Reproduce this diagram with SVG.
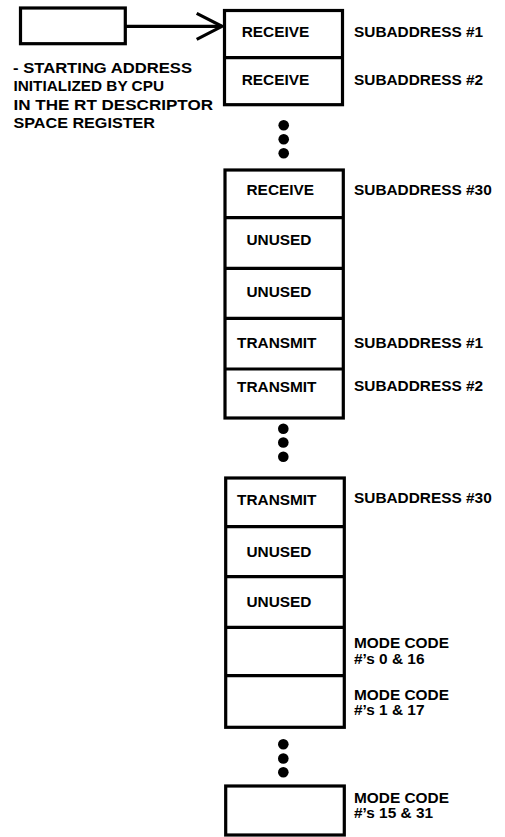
<svg xmlns="http://www.w3.org/2000/svg" width="505" height="837" viewBox="0 0 505 837">
<style>
.box{fill:#fff;stroke:#000;stroke-width:3.2}
.ln{fill:none;stroke:#000;stroke-width:3.2}
text{font-family:"Liberation Sans",Arial,Helvetica,sans-serif;font-weight:bold;font-size:15.4px;fill:#000}
.note{font-size:15px}
.dot{fill:#000}
</style>
<rect width="505" height="837" fill="#fff"/>
<g id="pointer">
<rect class="box" x="20.5" y="8" width="104.8" height="35.7"/>
<text class="note" x="13" y="72.8" textLength="179" lengthAdjust="spacingAndGlyphs">- STARTING ADDRESS</text>
<text class="note" x="13.5" y="91.2" textLength="150.5" lengthAdjust="spacingAndGlyphs">INITIALIZED BY CPU</text>
<text class="note" x="13.5" y="109.6" textLength="199.5" lengthAdjust="spacingAndGlyphs">IN THE RT DESCRIPTOR</text>
<text class="note" x="13.5" y="128" textLength="141.5" lengthAdjust="spacingAndGlyphs">SPACE REGISTER</text>
</g>
<g id="connectors">
<line class="ln" x1="125.3" y1="26.3" x2="222" y2="26.3"/>
<polyline class="ln" points="196.7,13.3 222,26.3 196.7,39.3"/>
</g>
<g id="block1">
<rect class="box" x="224.5" y="10.5" width="118" height="94.2"/>
<line class="ln" x1="224.5" y1="57.7" x2="342.5" y2="57.7"/>
<text x="241.7" y="36.5">RECEIVE</text>
<text x="241.7" y="84.5">RECEIVE</text>
<text x="354" y="36.5">SUBADDRESS #1</text>
<text x="354" y="84.5">SUBADDRESS #2</text>
</g>
<g id="dots1">
<circle class="dot" cx="283.7" cy="125.3" r="5.3"/>
<circle class="dot" cx="283.7" cy="139.3" r="5.3"/>
<circle class="dot" cx="283.7" cy="153.3" r="5.3"/>
</g>
<g id="block2">
<rect class="box" x="225" y="170" width="118.3" height="248"/>
<line class="ln" x1="225" y1="217.7" x2="343.3" y2="217.7"/>
<line class="ln" x1="225" y1="268.3" x2="343.3" y2="268.3"/>
<line class="ln" x1="225" y1="318.3" x2="343.3" y2="318.3"/>
<line class="ln" x1="225" y1="369" x2="343.3" y2="369"/>
<text x="246.5" y="195">RECEIVE</text>
<text x="246.5" y="245">UNUSED</text>
<text x="246.5" y="296.7">UNUSED</text>
<text x="237" y="348.3">TRANSMIT</text>
<text x="237" y="391.7">TRANSMIT</text>
<text x="354" y="195">SUBADDRESS #30</text>
<text x="354" y="347.5">SUBADDRESS #1</text>
<text x="354" y="391">SUBADDRESS #2</text>
</g>
<g id="dots2">
<circle class="dot" cx="283.3" cy="428.7" r="5.3"/>
<circle class="dot" cx="283.3" cy="442.5" r="5.3"/>
<circle class="dot" cx="283.3" cy="456.7" r="5.3"/>
</g>
<g id="block3">
<rect class="box" x="225.7" y="478" width="118.6" height="249.3"/>
<line class="ln" x1="225.7" y1="526.7" x2="344.3" y2="526.7"/>
<line class="ln" x1="225.7" y1="576.7" x2="344.3" y2="576.7"/>
<line class="ln" x1="225.7" y1="627.3" x2="344.3" y2="627.3"/>
<line class="ln" x1="225.7" y1="675.7" x2="344.3" y2="675.7"/>
<text x="237" y="505">TRANSMIT</text>
<text x="246.5" y="557">UNUSED</text>
<text x="246.5" y="607">UNUSED</text>
<text x="354" y="503">SUBADDRESS #30</text>
<text x="354" y="648.3">MODE CODE</text>
<text x="354" y="663.5">#’s 0 &amp; 16</text>
<text x="354" y="700">MODE CODE</text>
<text x="354" y="715">#’s 1 &amp; 17</text>
</g>
<g id="dots3">
<circle class="dot" cx="283.3" cy="744.3" r="5.3"/>
<circle class="dot" cx="283.3" cy="758.5" r="5.3"/>
<circle class="dot" cx="283.3" cy="772.3" r="5.3"/>
</g>
<g id="block4">
<rect class="box" x="225.7" y="786" width="118.6" height="49"/>
<text x="354" y="802.7">MODE CODE</text>
<text x="354" y="817.5">#’s 15 &amp; 31</text>
</g>
</svg>
